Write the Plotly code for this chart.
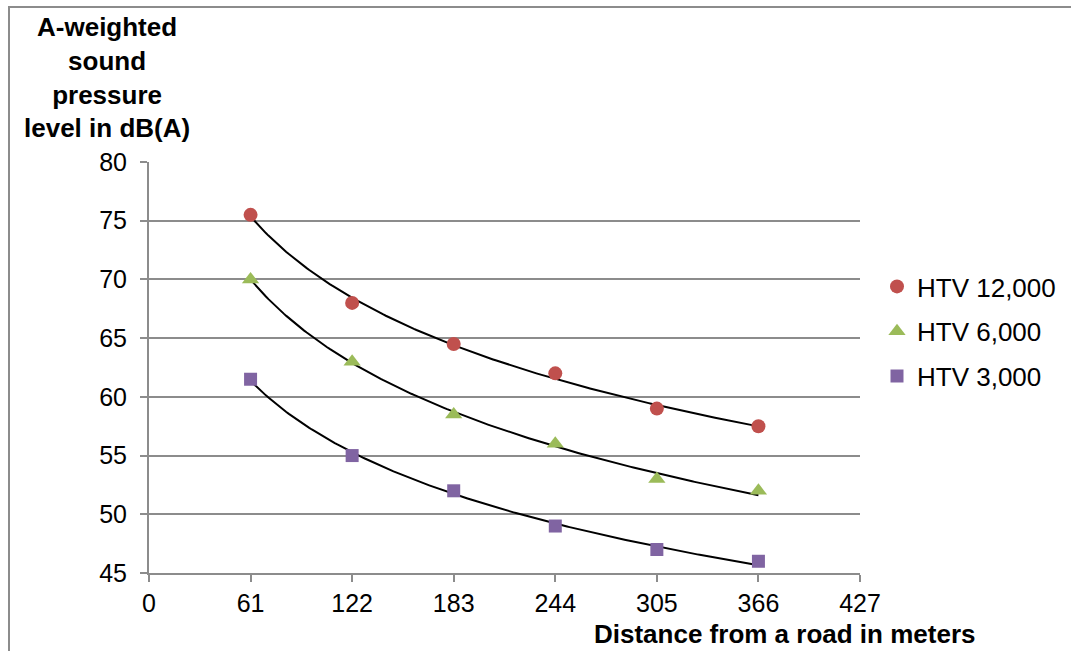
import numpy as np
import plotly.graph_objects as go

# Distance from the road (m) and measured levels in dB(A)
distance_m = [61, 122, 183, 244, 305, 366]
htv_12000 = [75.5, 68, 64.5, 62, 59, 57.5]
htv_6000 = [70, 63, 58.5, 56, 53, 52]
htv_3000 = [61.5, 55, 52, 49, 47, 46]

x_ticks = [0, 61, 122, 183, 244, 305, 366, 427]
y_ticks = [45, 50, 55, 60, 65, 70, 75, 80]

series = [
    ("HTV 12,000", htv_12000, "#C0504D", "circle", 14),
    ("HTV 6,000", htv_6000, "#9BBB59", "triangle-up", 15),
    ("HTV 3,000", htv_3000, "#8064A2", "square", 13),
]

FONT = "Liberation Sans, Arial, sans-serif"
L, R, T, B = 149, 211, 162, 78
W, H = 1071, 651

fig = go.Figure()

# Logarithmic trend line for each series (least squares on ln x)
x_arr = np.array(distance_m, dtype=float)
x_fit = np.linspace(x_arr.min(), x_arr.max(), 200)
for name, vals, color, sym, size in series:
    b, a = np.polyfit(np.log(x_arr), np.array(vals, dtype=float), 1)
    fig.add_trace(go.Scatter(
        x=x_fit, y=a + b * np.log(x_fit), mode="lines",
        line=dict(color="black", width=2), showlegend=False, hoverinfo="skip",
    ))

for name, vals, color, sym, size in series:
    fig.add_trace(go.Scatter(
        x=distance_m, y=vals, mode="markers", name=name, legendgroup=name,
        marker=dict(symbol=sym, size=size, color=color, line=dict(width=0)),
    ))

def px_to_paper_x(p):
    return (p - L) / (W - L - R)

def px_to_paper_y(p):
    return (H - B - p) / (H - T - B)

# Chart-area border
fig.add_shape(type="rect", xref="paper", yref="paper",
              x0=px_to_paper_x(9), x1=px_to_paper_x(1090),
              y0=px_to_paper_y(670), y1=px_to_paper_y(7),
              line=dict(color="#8C8C8C", width=2), fillcolor="rgba(0,0,0,0)",
              layer="below")

fig.add_annotation(
    text="A-weighted<br>sound<br>pressure<br>level in dB(A)",
    xref="paper", yref="paper", x=px_to_paper_x(107), y=px_to_paper_y(10),
    xanchor="center", yanchor="top", showarrow=False, align="center",
    font=dict(family=FONT, size=26, color="black", weight="bold"),
)
fig.add_annotation(
    text="Distance from a road in meters",
    xref="paper", yref="paper", x=px_to_paper_x(977), y=px_to_paper_y(634),
    xanchor="right", yanchor="middle", showarrow=False,
    font=dict(family=FONT, size=26, color="black", weight="bold"),
)

fig.update_layout(
    width=W, height=H,
    margin=dict(l=L, r=R, t=T, b=B, pad=0, autoexpand=False),
    paper_bgcolor="white", plot_bgcolor="white",
    font=dict(family=FONT, size=24, color="black"),
    showlegend=True,
    legend=dict(
        x=px_to_paper_x(877), y=px_to_paper_y(263), xanchor="left", yanchor="top",
        font=dict(family=FONT, size=26, color="black"),
        tracegroupgap=8, itemwidth=30, bgcolor="rgba(0,0,0,0)",
    ),
    xaxis=dict(
        range=[0, 427], tickvals=x_ticks, ticktext=[str(v) for v in x_ticks],
        showgrid=False, zeroline=False, showline=True, linecolor="#8C8C8C",
        linewidth=2, ticks="outside", ticklen=7, tickcolor="#8C8C8C", tickwidth=2,
        tickfont=dict(size=25),
    ),
    yaxis=dict(
        range=[45, 80], tickvals=y_ticks, ticktext=[str(v) for v in y_ticks],
        showgrid=True, gridcolor="#8C8C8C", gridwidth=2, zeroline=False,
        showline=True, linecolor="#8C8C8C", linewidth=2, ticks="outside",
        ticklen=7, tickcolor="#8C8C8C", tickwidth=2, tickfont=dict(size=25),
        ticklabelstandoff=8,
    ),
)

fig.write_html("out.html")
